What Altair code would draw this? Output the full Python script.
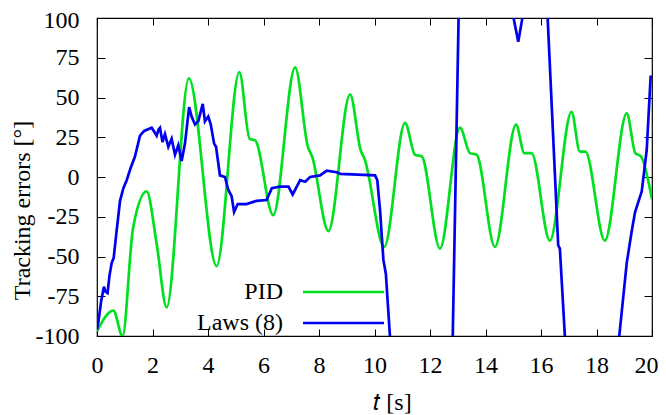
import altair as alt
import pandas as pd

X_TICKS = [0, 2, 4, 6, 8, 10, 12, 14, 16, 18, 20]
Y_TICKS = [-100, -75, -50, -25, 0, 25, 50, 75, 100]
SERIES = ["PID", "Laws (8)"]
COLORS = ["#00e020", "#0000f0"]

PID_T = [0.0, 0.59, 0.92, 1.3, 1.79, 2.15, 2.51, 3.31, 4.31, 5.13, 5.5, 5.7, 6.35,
         7.14, 7.6, 7.75, 8.34, 9.12, 9.5, 9.65, 10.35, 11.1, 11.46, 11.7, 12.36,
         13.08, 13.44, 13.68, 14.34, 15.1, 15.4, 15.66, 16.32, 17.1, 17.4, 17.6,
         18.3, 19.09, 19.4, 19.6, 20.0]
PID_V = [-97, -84, -100, -32, -9, -42, -82, 62, -56, 66, 24, 23, -24,
         69, 19, 13, -34, 52, 17, 11, -44, 34, 14, 13, -45,
         31, 15, 14, -44, 33, 15, 15, -40, 41, 16, 16,
         -40, 40, 15, 13, -14]

LAW_T = [0.0, 0.05, 0.15, 0.25, 0.3, 0.38, 0.45, 0.53, 0.6, 0.7, 0.83, 0.95, 1.07,
         1.2, 1.37, 1.55, 1.7, 1.97, 2.08, 2.15, 2.22, 2.27, 2.36, 2.45, 2.57, 2.69,
         2.81, 2.93, 3.05, 3.17, 3.32, 3.41, 3.53, 3.65, 3.81, 3.89, 4.01, 4.1, 4.22,
         4.29, 4.43, 4.61, 4.73, 4.85, 4.94, 5.07, 5.39, 5.75, 6.11, 6.3, 6.6, 6.9,
         7.05, 7.2, 7.32, 7.5, 7.68, 8.04, 8.28, 8.64, 8.76, 10.02, 10.1, 10.2, 10.32,
         10.41, 10.56, 10.7, 12.7, 12.82, 13.03, 13.1, 14.9, 15.0, 15.18, 15.34, 15.45,
         16.15, 16.24, 16.62, 16.68, 16.86, 16.95, 18.75, 18.82, 19.09, 19.27, 19.39,
         19.63, 19.81, 19.95, 20.0]
LAW_V = [-96, -91, -78, -69, -72, -73, -62, -54, -51, -35, -15, -7, -2,
         5, 13, 26, 29, 31, 28, 26, 30, 31, 22, 27, 19, 24,
         14, 20, 10, 21, 44, 38, 33, 35, 46, 35, 38, 33, 21,
         19, 1, 0, -8, -12, -22, -17, -17, -15, -14.5, -7, -6, -6,
         -11, -6, -2, -3, 0, 1, 4, 3, 2, 1, -2, -21, -52,
         -61, -101, -140, -140, -100, 100, 140, 140, 101, 85, 101, 140,
         140, 100, -43, -45, -100, -140, -140, -100, -54, -34, -22,
         -9, 17, 63, 63]

FONT = "Liberation Serif"
W, H = 555, 318

pid_df = pd.DataFrame({"t": PID_T, "v": PID_V})
law_df = pd.DataFrame({"t": LAW_T, "v": LAW_V})

xs = alt.Scale(domain=[0, 20], nice=False)
ys = alt.Scale(domain=[-100, 100], nice=False)

common_axis = dict(tickSize=7, domain=False, labelFontSize=24, labelFont=FONT,
                   titleFont=FONT, titleFontSize=24, titleFontWeight="normal",
                   tickColor="black", labelColor="black", titleColor="black",
                   grid=False, labelFlush=False, labelExpr="'' + datum.value")

pid = alt.Chart(pid_df).mark_line(color=COLORS[0], strokeWidth=2.7, clip=True,
                                  interpolate="monotone").encode(
    x=alt.X("t:Q", scale=xs,
            axis=alt.Axis(orient="bottom", values=X_TICKS, offset=-7,
                          labelPadding=17, title="𝑡 [s]", titleX=295,
                          titleY=80, titleBaseline="alphabetic",
                          labelOffset={"condition": {"test": "datum.value == 20",
                                                     "value": -6}, "value": 0},
                          **common_axis)),
    y=alt.Y("v:Q", scale=ys,
            axis=alt.Axis(orient="left", values=Y_TICKS, offset=-8,
                          labelPadding=18, title="Tracking errors [°]",
                          titleX=-76, titleY=192, titleBaseline="alphabetic",
                          labelOffset={"condition": {"test": "datum.value == 100",
                                                     "value": 2}, "value": 0},
                          **{**common_axis, "tickSize": 8})),
)

law = alt.Chart(law_df).mark_line(color=COLORS[1], strokeWidth=2.7, clip=True).encode(
    x=alt.X("t:Q", scale=xs,
            axis=alt.Axis(orient="top", values=X_TICKS, offset=-7, labels=False,
                          title=None, **common_axis)),
    y=alt.Y("v:Q", scale=ys,
            axis=alt.Axis(orient="right", values=Y_TICKS, offset=-8, labels=False,
                          title=None, **{**common_axis, "tickSize": 8})),
)

leg_df = pd.DataFrame({"dummy": [0]})
legend_layers = []
for i, (name, col) in enumerate(zip(SERIES, COLORS)):
    yy = 274 + 31 * i
    legend_layers.append(
        alt.Chart(leg_df).mark_text(text=name, font=FONT, fontSize=24, align="right",
                                    baseline="middle", color="black").encode(
            x=alt.value(186), y=alt.value(yy)))
    legend_layers.append(
        alt.Chart(leg_df).mark_rule(color=col, strokeWidth=2.7).encode(
            x=alt.value(206), x2=alt.value(287), y=alt.value(yy)))

chart = alt.layer(pid, law, *legend_layers).resolve_axis(
    x="independent", y="independent"
).properties(
    width=W, height=H,
    autosize=alt.AutoSizeParams(type="none"),
    padding={"left": 89, "top": 10, "right": 6, "bottom": 80},
).configure_view(stroke="black", strokeWidth=1.2)

chart.save("out.html", embed_options={"renderer": "svg", "actions": False})
